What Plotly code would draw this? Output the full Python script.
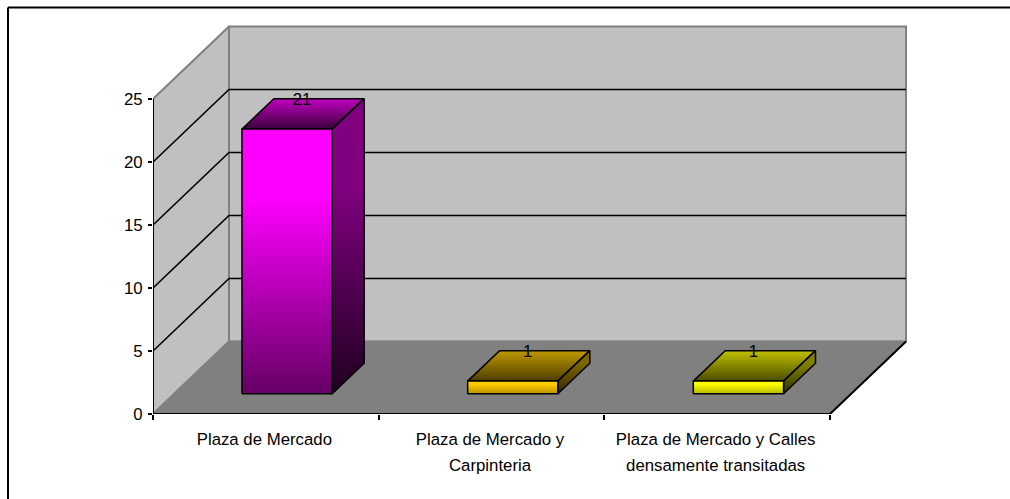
import plotly.graph_objects as go

categories = ["Plaza de Mercado", "Plaza de Mercado y<br>Carpinteria", "Plaza de Mercado y Calles<br>densamente transitadas"]
values = [21, 1, 1]
front_top = ["#ff00ff", "#ffcc00", "#ffff00"]
front_bottom = ["#660066", "#b89300", "#b8b800"]
top_back = ["#c000c0", "#c09900", "#c0c000"]
top_front = ["#3a003a", "#4d3d00", "#4d4d00"]
side_top = ["#800080", "#806600", "#808000"]
side_bottom = ["#200020", "#332900", "#333300"]
y_ticks = [0, 5, 10, 15, 20, 25]
x_ticks = [0, 1, 2, 3]

FONT = "Liberation Sans, Arial, sans-serif"
TEXT_SIZE = 16.8
W, H = 1010, 499
L, R, T, B = 153, 915, 18, 414       # plot area in page pixels
CAT_PX = (830 - 153) / 3             # pixels per category
VAL_PX = (414 - 99) / 25             # pixels per value unit
DEPTH_X, DEPTH_Y = 76, 72.5          # floor depth offset in pixels


def proj(cat, val, depth):
    """Oblique projection: category position, value, depth 0..1 -> axis coordinates."""
    return cat + depth * DEPTH_X / CAT_PX, val + depth * DEPTH_Y / VAL_PX


def poly(points):
    xy = [proj(*p) for p in points]
    return [a for a, _ in xy], [b for _, b in xy]


fig = go.Figure()


def face(points, fill=None, line="black", lw=1.5, scale=None):
    x, y = poly(points)
    kw = dict(fill="toself", fillcolor=fill) if fill else {}
    if scale:
        kw = dict(fill="toself", fillgradient=dict(type="vertical", colorscale=scale))
    fig.add_trace(go.Scatter(x=x, y=y, mode="lines", line=dict(color=line, width=lw),
                             hoverinfo="skip", showlegend=False, cliponaxis=False, **kw))


n = len(categories)
top = y_ticks[-1]
# walls and floor
face([(0, 0, 0), (0, 0, 1), (0, top, 1), (0, top, 0), (0, 0, 0)], "#c0c0c0", "#808080", 2)
face([(0, 0, 1), (n, 0, 1), (n, top, 1), (0, top, 1), (0, 0, 1)], "#c0c0c0", "#808080", 2)
# gridlines
for v in y_ticks[1:-1]:
    x, y = poly([(0, v, 0), (0, v, 1), (n, v, 1)])
    fig.add_trace(go.Scatter(x=x, y=y, mode="lines", line=dict(color="black", width=1.6),
                             hoverinfo="skip", showlegend=False, cliponaxis=False))
face([(0, 0, 0), (n, 0, 0), (n, 0, 1), (0, 0, 1), (0, 0, 0)], "#808080", "#808080", 1.5)
# axis edges
x, y = poly([(0, top, 0), (0, 0, 0), (n, 0, 0), (n, 0, 1)])
fig.add_trace(go.Scatter(x=x, y=y, mode="lines", line=dict(color="black", width=2),
                         hoverinfo="skip", showlegend=False, cliponaxis=False))

# bars
D0, D1, HALF = 0.28, 0.70, 0.20
for i, v in enumerate(values):
    a, b = i + 0.5 - HALF, i + 0.5 + HALF
    face([(a, v, D0), (b, v, D0), (b, v, D1), (a, v, D1), (a, v, D0)],
         scale=[[0, top_front[i]], [1, top_back[i]]])
    face([(b, 0, D0), (b, 0, D1), (b, v, D1), (b, v, D0), (b, 0, D0)],
         scale=[[0, side_bottom[i]], [0.7, side_top[i]], [1, side_top[i]]])
    face([(a, 0, D0), (b, 0, D0), (b, v, D0), (a, v, D0), (a, 0, D0)],
         scale=[[0, front_bottom[i]], [0.75, front_top[i]], [1, front_top[i]]])

lx, ly = [], []
for i, v in enumerate(values):
    p = proj(i + 0.5 - 17 / CAT_PX, v - 2.5 / VAL_PX, D1)
    lx.append(p[0]); ly.append(p[1])
fig.add_trace(go.Scatter(x=lx, y=ly, mode="text", text=[str(v) for v in values], textposition="middle center",
                         textfont=dict(family=FONT, size=TEXT_SIZE, color="black"),
                         hoverinfo="skip", showlegend=False, cliponaxis=False))

# overlay trace that carries the category labels on the second x axis
label_x = [i + 0.5 - 1.5 / CAT_PX for i in range(n)]
fig.add_trace(go.Scatter(x=label_x, y=values, xaxis="x2", mode="markers",
                         marker=dict(opacity=0), hoverinfo="skip", showlegend=False))

x_max = (R - L) / CAT_PX
y_max = (B - T) / VAL_PX
span = f'<span style="font-size:{TEXT_SIZE}px">'
labels = [span + c.replace("<br>", "</span><br>" + span) + "</span>" for c in categories]
fig.update_layout(
    width=W, height=H, autosize=False, paper_bgcolor="white", plot_bgcolor="rgba(0,0,0,0)",
    margin=dict(l=L, r=W - R, t=T, b=H - B), showlegend=False,
    font=dict(family=FONT, size=TEXT_SIZE, color="black"),
    xaxis=dict(range=[0, x_max], tickvals=x_ticks, ticktext=["" for _ in x_ticks], ticks="outside", ticklen=5,
               tickwidth=1.5, tickcolor="black", showgrid=False, zeroline=False, showline=False),
    xaxis2=dict(range=[0, x_max], overlaying="x", side="bottom", tickvals=label_x, ticktext=labels,
                ticks="", showgrid=False, zeroline=False, showline=False, tickangle=0, anchor="y",
                tickfont=dict(family=FONT, size=20), ticklabelstandoff=10),
    yaxis=dict(range=[0, y_max], tickvals=y_ticks, ticks="outside", ticklen=4, tickwidth=1.5, tickcolor="black",
               showgrid=False, zeroline=False, showline=False, tickfont=dict(family=FONT, size=TEXT_SIZE),
               ticklabelstandoff=2),
    shapes=[
        dict(type="line", xref="paper", yref="paper", x0=(8 - L) / (R - L), x1=(W - L) / (R - L),
             y0=(B - 7.5) / (B - T), y1=(B - 7.5) / (B - T), line=dict(color="black", width=2)),
        dict(type="line", xref="paper", yref="paper", x0=(8 - L) / (R - L), x1=(8 - L) / (R - L),
             y0=(B - 7.5) / (B - T), y1=(B - H) / (B - T), line=dict(color="black", width=2)),
    ],
)
fig.write_html("out.html", config=dict(displayModeBar=False),
               post_script="document.body.style.margin='0';document.body.style.overflow='hidden';")
